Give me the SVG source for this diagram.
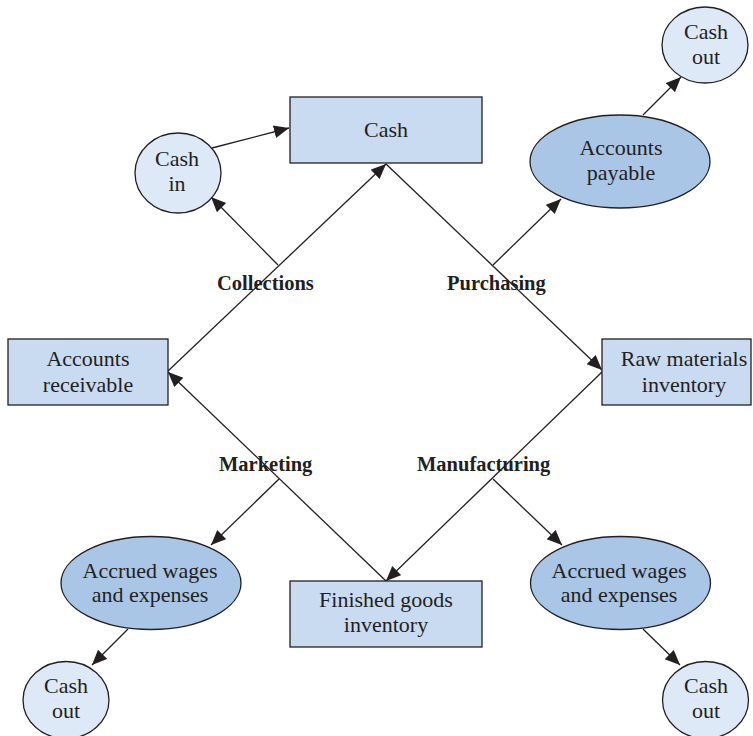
<svg xmlns="http://www.w3.org/2000/svg" width="753" height="736" viewBox="0 0 753 736">
  <style>
    .box { fill: #c9dbf0; stroke: #231f20; stroke-width: 1.3; }
    .acc { fill: #a9c6e6; stroke: #231f20; stroke-width: 1.3; }
    .flow { fill: #dde9f6; stroke: #231f20; stroke-width: 1.3; }
    .t { font-family: "Liberation Serif", "Times New Roman", serif; font-size: 22px; fill: #231f20; text-anchor: middle; }
    .lbl { font-family: "Liberation Serif", "Times New Roman", serif; font-size: 20.5px; font-weight: bold; fill: #231f20; }
    .conn line { stroke: #231f20; stroke-width: 1.3; fill: none; }
  </style>
  <defs>
    <marker id="arrow" markerUnits="userSpaceOnUse" markerWidth="16" markerHeight="14" refX="15" refY="6.5" orient="auto">
      <path d="M0,0 L15,6.5 L0,13 z" fill="#231f20"/>
    </marker>
  </defs>
  <rect width="753" height="736" fill="#ffffff"/>

  <!-- connectors -->
  <g class="conn" id="connectors">
    <!-- operating cycle diamond -->
    <line x1="168" y1="371" x2="386" y2="164" marker-end="url(#arrow)"/>
    <line x1="386" y1="164" x2="602" y2="370" marker-end="url(#arrow)"/>
    <line x1="602" y1="372" x2="386" y2="581" marker-end="url(#arrow)"/>
    <line x1="386" y1="581" x2="168" y2="372" marker-end="url(#arrow)"/>
    <!-- branches -->
    <line x1="278" y1="265" x2="211" y2="197" marker-end="url(#arrow)"/>
    <line x1="212" y1="148" x2="289" y2="128" marker-end="url(#arrow)"/>
    <line x1="493" y1="265" x2="561" y2="199" marker-end="url(#arrow)"/>
    <line x1="643" y1="115" x2="681" y2="77" marker-end="url(#arrow)"/>
    <line x1="279" y1="479" x2="211" y2="545" marker-end="url(#arrow)"/>
    <line x1="128" y1="629" x2="92" y2="665" marker-end="url(#arrow)"/>
    <line x1="493" y1="479" x2="562" y2="545" marker-end="url(#arrow)"/>
    <line x1="643" y1="629" x2="680" y2="665" marker-end="url(#arrow)"/>
  </g>

  <!-- nodes -->
  <g id="cash">
    <rect class="box" x="290" y="97" width="192" height="66"/>
    <text class="t" x="386" y="137">Cash</text>
  </g>
  <g id="cash-in">
    <ellipse class="flow" cx="178" cy="173" rx="43" ry="40"/>
    <text class="t" x="177" y="166">Cash</text>
    <text class="t" x="177" y="191">in</text>
  </g>
  <g id="accounts-payable">
    <ellipse class="acc" cx="620" cy="161.5" rx="90" ry="46.5"/>
    <text class="t" x="621" y="155">Accounts</text>
    <text class="t" x="621" y="180">payable</text>
  </g>
  <g id="cash-out-payable">
    <ellipse class="flow" cx="705" cy="45" rx="43" ry="38"/>
    <text class="t" x="706" y="39">Cash</text>
    <text class="t" x="706" y="64">out</text>
  </g>
  <g id="accounts-receivable">
    <rect class="box" x="8" y="339" width="160" height="66"/>
    <text class="t" x="88" y="366">Accounts</text>
    <text class="t" x="88" y="392">receivable</text>
  </g>
  <g id="raw-materials">
    <rect class="box" x="602" y="339" width="149" height="66"/>
    <text class="t" x="684" y="366">Raw materials</text>
    <text class="t" x="684" y="392">inventory</text>
  </g>
  <g id="finished-goods">
    <rect class="box" x="290" y="581" width="192" height="66"/>
    <text class="t" x="386" y="607">Finished goods</text>
    <text class="t" x="386" y="632">inventory</text>
  </g>
  <g id="accrued-marketing">
    <ellipse class="acc" cx="151" cy="583" rx="90" ry="46.5"/>
    <text class="t" x="150" y="578">Accrued wages</text>
    <text class="t" x="150" y="602">and expenses</text>
  </g>
  <g id="cash-out-marketing">
    <ellipse class="flow" cx="66" cy="700" rx="43" ry="38.5"/>
    <text class="t" x="66" y="693">Cash</text>
    <text class="t" x="66" y="718">out</text>
  </g>
  <g id="accrued-manufacturing">
    <ellipse class="acc" cx="620.5" cy="583" rx="90" ry="46.5"/>
    <text class="t" x="619" y="578">Accrued wages</text>
    <text class="t" x="619" y="602">and expenses</text>
  </g>
  <g id="cash-out-manufacturing">
    <ellipse class="flow" cx="705.5" cy="700" rx="43" ry="38.5"/>
    <text class="t" x="706" y="693">Cash</text>
    <text class="t" x="706" y="718">out</text>
  </g>

  <!-- activity labels -->
  <g id="labels">
    <text class="lbl" x="217" y="290">Collections</text>
    <text class="lbl" x="447" y="290">Purchasing</text>
    <text class="lbl" x="219" y="471">Marketing</text>
    <text class="lbl" x="417" y="471">Manufacturing</text>
  </g>
</svg>
